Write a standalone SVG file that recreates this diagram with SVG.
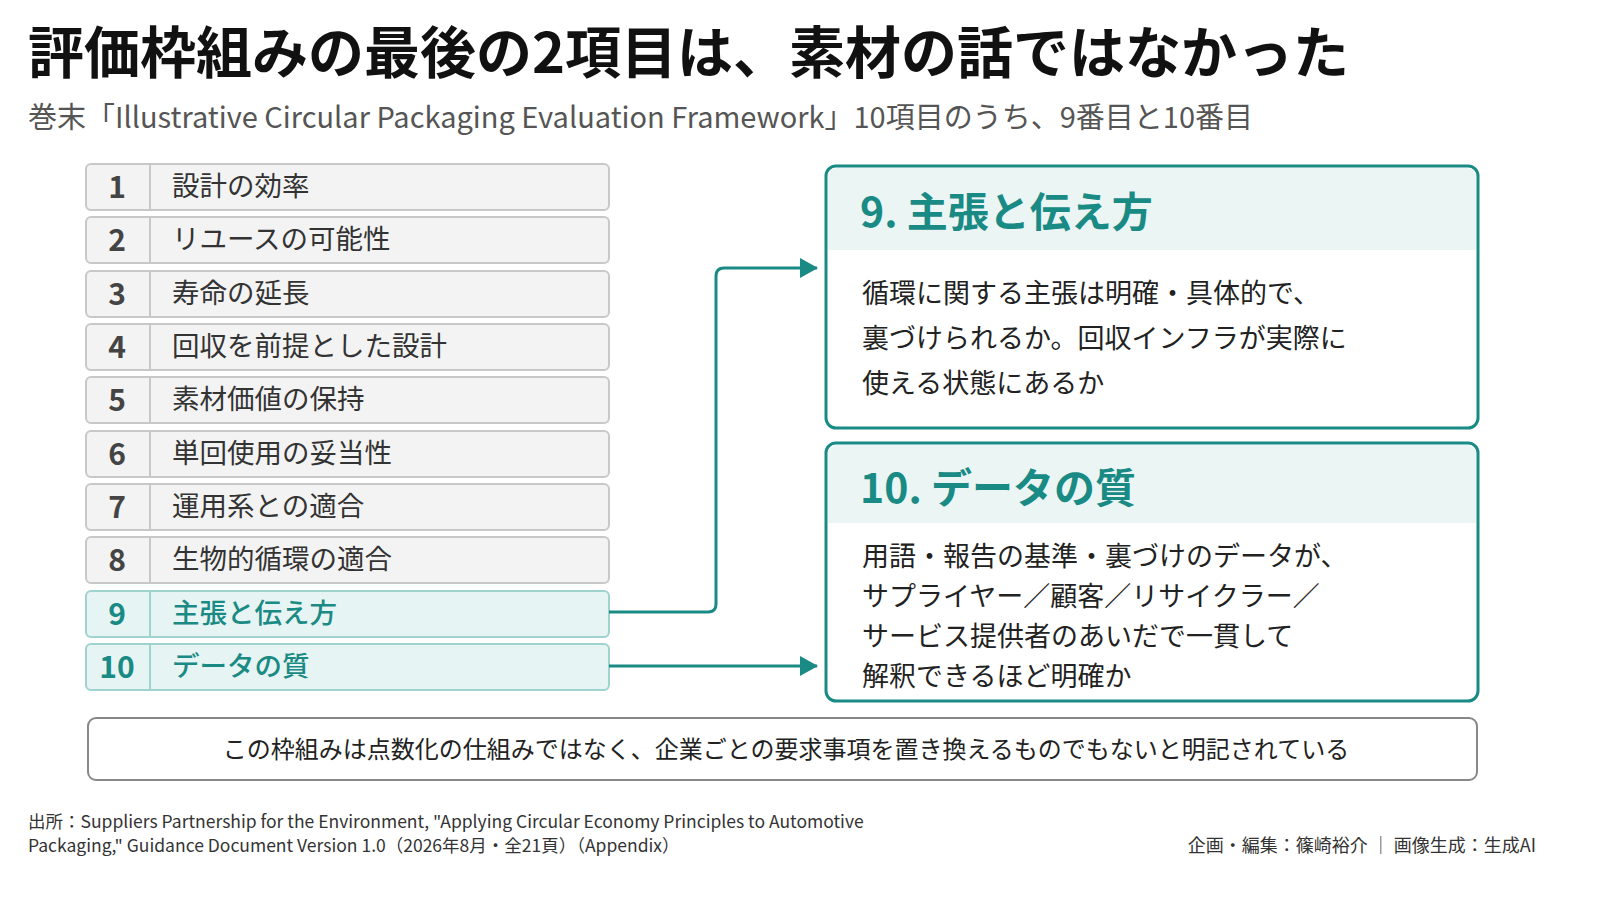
<svg xmlns="http://www.w3.org/2000/svg" width="1600" height="900" viewBox="0 0 1600 900">
<style>
text{font-family:"Noto Sans CJK JP","Noto Sans",sans-serif;}
.row{fill:#f3f3f3;stroke:#c8c8c8;stroke-width:2}
.rowh{fill:#e6f4f3;stroke:#9fd3cf;stroke-width:2}
.div{stroke:#c8c8c8;stroke-width:2}
.divh{stroke:#9fd3cf;stroke-width:2}
.num{font-size:30px;font-weight:700;fill:#444;text-anchor:middle}
.lab{font-size:27.5px;fill:#333}
.numh{font-size:30px;font-weight:700;fill:#1a8a84;text-anchor:middle}
.labh{font-size:27.5px;fill:#1a8a84;font-weight:500}
.card{fill:#fff;stroke:#1a8a84;stroke-width:3}
.band{fill:#eaf5f4}
.ct{font-size:41px;font-weight:700;fill:#1a8a84}
.cb{font-size:27px;fill:#222}
.conn{fill:none;stroke:#1a8a84;stroke-width:3}
</style>
<defs><marker id="ah" markerWidth="18" markerHeight="20" refX="17" refY="10" orient="auto" markerUnits="userSpaceOnUse" viewBox="0 0 18 20"><path d="M0,0 L18,10 L0,20 z" fill="#1a8a84"/></marker></defs>
<rect width="1600" height="900" fill="#fff"/>
<text x="28" y="73" font-size="56" font-weight="700" fill="#111">評価枠組みの最後の2項目は、素材の話ではなかった</text>
<text x="28" y="128" font-size="29" fill="#555">巻末「Illustrative Circular Packaging Evaluation Framework」10項目のうち、9番目と10番目</text>
<g id="row1"><rect class="row" x="86" y="164" width="523" height="46" rx="5"/><line class="div" x1="150" y1="164" x2="150" y2="210"/><text class="num" x="117" y="198">1</text><text class="lab" x="172" y="196">設計の効率</text></g>
<g id="row2"><rect class="row" x="86" y="217" width="523" height="46" rx="5"/><line class="div" x1="150" y1="217" x2="150" y2="263"/><text class="num" x="117" y="251">2</text><text class="lab" x="172" y="249">リユースの可能性</text></g>
<g id="row3"><rect class="row" x="86" y="271" width="523" height="46" rx="5"/><line class="div" x1="150" y1="271" x2="150" y2="317"/><text class="num" x="117" y="305">3</text><text class="lab" x="172" y="303">寿命の延長</text></g>
<g id="row4"><rect class="row" x="86" y="324" width="523" height="46" rx="5"/><line class="div" x1="150" y1="324" x2="150" y2="370"/><text class="num" x="117" y="358">4</text><text class="lab" x="172" y="356">回収を前提とした設計</text></g>
<g id="row5"><rect class="row" x="86" y="377" width="523" height="46" rx="5"/><line class="div" x1="150" y1="377" x2="150" y2="423"/><text class="num" x="117" y="411">5</text><text class="lab" x="172" y="409">素材価値の保持</text></g>
<g id="row6"><rect class="row" x="86" y="431" width="523" height="46" rx="5"/><line class="div" x1="150" y1="431" x2="150" y2="477"/><text class="num" x="117" y="465">6</text><text class="lab" x="172" y="463">単回使用の妥当性</text></g>
<g id="row7"><rect class="row" x="86" y="484" width="523" height="46" rx="5"/><line class="div" x1="150" y1="484" x2="150" y2="530"/><text class="num" x="117" y="518">7</text><text class="lab" x="172" y="516">運用系との適合</text></g>
<g id="row8"><rect class="row" x="86" y="537" width="523" height="46" rx="5"/><line class="div" x1="150" y1="537" x2="150" y2="583"/><text class="num" x="117" y="571">8</text><text class="lab" x="172" y="569">生物的循環の適合</text></g>
<g id="row9"><rect class="rowh" x="86" y="591" width="523" height="46" rx="5"/><line class="divh" x1="150" y1="591" x2="150" y2="637"/><text class="numh" x="117" y="625">9</text><text class="labh" x="172" y="623">主張と伝え方</text></g>
<g id="row10"><rect class="rowh" x="86" y="644" width="523" height="46" rx="5"/><line class="divh" x1="150" y1="644" x2="150" y2="690"/><text class="numh" x="117" y="678">10</text><text class="labh" x="172" y="676">データの質</text></g>
<g id="connectors">
<path class="conn" d="M609,612 H708 Q716,612 716,604 V276 Q716,268 724,268 H817" marker-end="url(#ah)"/>
<path class="conn" d="M609,666 H817" marker-end="url(#ah)"/>
</g>
<g id="card9"><rect class="card" x="826" y="166" width="652" height="262" rx="10"/><path class="band" d="M828,250 V178 Q828,168 838,168 H1466 Q1476,168 1476,178 V250 Z"/>
<text class="ct" x="860" y="227">9. 主張と伝え方</text>
<text class="cb" x="862" y="303">循環に関する主張は明確・具体的で、</text>
<text class="cb" x="862" y="348">裏づけられるか。回収インフラが実際に</text>
<text class="cb" x="862" y="393">使える状態にあるか</text></g>
<g id="card10"><rect class="card" x="826" y="443" width="652" height="258" rx="10"/><path class="band" d="M828,523 V455 Q828,445 838,445 H1466 Q1476,445 1476,455 V523 Z"/>
<text class="ct" x="860" y="503">10. データの質</text>
<text class="cb" x="862" y="566">用語・報告の基準・裏づけのデータが、</text>
<text class="cb" x="862" y="606">サプライヤー／顧客／リサイクラー／</text>
<text class="cb" x="862" y="646">サービス提供者のあいだで一貫して</text>
<text class="cb" x="862" y="686">解釈できるほど明確か</text></g>
<g id="note"><rect x="88" y="718" width="1389" height="62" rx="8" fill="#fff" stroke="#888" stroke-width="2"/>
<text x="786" y="758" font-size="24" fill="#222" text-anchor="middle">この枠組みは点数化の仕組みではなく、企業ごとの要求事項を置き換えるものでもないと明記されている</text></g>
<text x="28" y="828" font-size="17.5" fill="#333">出所：Suppliers Partnership for the Environment, "Applying Circular Economy Principles to Automotive</text>
<text x="28" y="852" font-size="17.5" fill="#333">Packaging," Guidance Document Version 1.0（2026年8月・全21頁）（Appendix）</text>
<text x="1536" y="852" font-size="18" fill="#333" text-anchor="end">企画・編集：篠崎裕介 │ 画像生成：生成AI</text>
</svg>
